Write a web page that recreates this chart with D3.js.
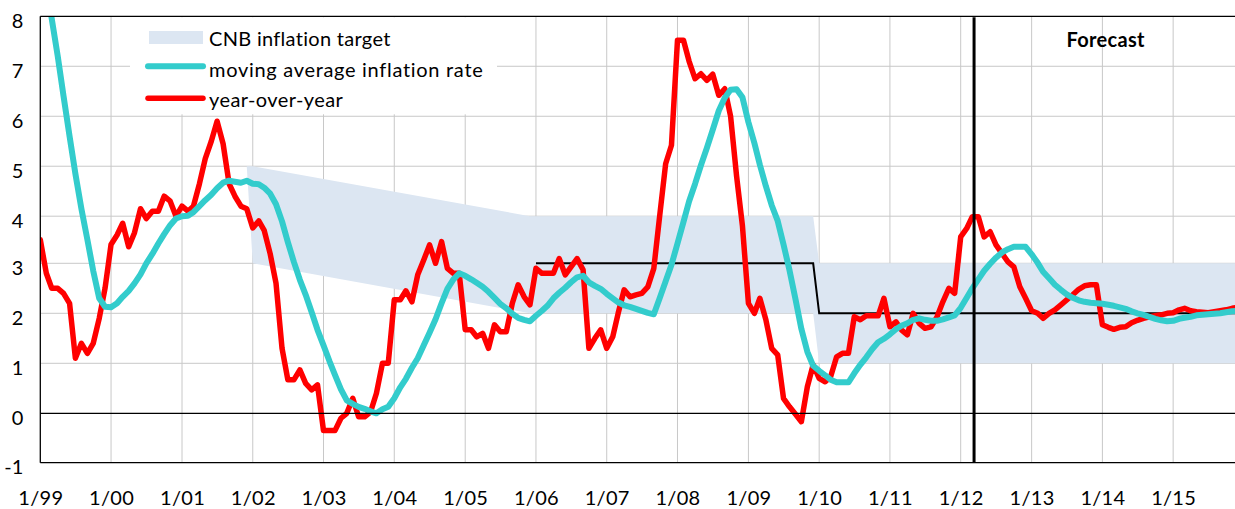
<!DOCTYPE html>
<html>
<head>
<meta charset="utf-8">
<script src="https://cdn.jsdelivr.net/npm/d3@7"></script>
<style>
  body { margin: 0; background: #fff; }
  svg { display: block; }
  text { font-family: Lato, "Open Sans", sans-serif; }
</style>
</head>
<body>
<svg id="chart" width="1235" height="509"></svg>
<script>
// monthly values, Jan 1999 .. Dec 2015
const yoy = [
  3.5, 2.8, 2.5, 2.5, 2.4, 2.2, 1.1, 1.4, 1.2, 1.4, 1.9, 2.5,
  3.4, 3.6, 3.85, 3.35, 3.65, 4.15, 3.95, 4.1, 4.1, 4.4, 4.3, 4.0,
  4.2, 4.1, 4.2, 4.65, 5.15, 5.5, 5.9, 5.45, 4.65, 4.4, 4.2, 4.15,
  3.75, 3.9, 3.7, 3.2, 2.6, 1.3, 0.67, 0.67, 0.87, 0.6, 0.47, 0.57,
  -0.35, -0.35, -0.35, -0.1, 0.0, 0.3, -0.07, -0.07, 0.03, 0.4, 1.0, 1.0,
  2.27, 2.27, 2.45, 2.23, 2.77, 3.07, 3.39, 3.0, 3.46, 2.9, 2.8, 2.8,
  1.67, 1.67, 1.53, 1.6, 1.3, 1.77, 1.63, 1.63, 2.2, 2.57, 2.33, 2.17,
  2.9, 2.8, 2.8, 2.8, 3.1, 2.77, 2.93, 3.1, 2.87, 1.3, 1.5, 1.67,
  1.3, 1.53, 2.0, 2.47, 2.33, 2.37, 2.4, 2.53, 2.9, 4.0, 5.05, 5.42,
  7.52, 7.52, 7.1, 6.75, 6.85, 6.72, 6.84, 6.42, 6.55, 6.0, 4.8, 3.8,
  2.2, 2.0, 2.3, 1.87, 1.3, 1.17, 0.3, 0.13, -0.02, -0.17, 0.53, 0.97,
  0.7, 0.63, 0.73, 1.13, 1.2, 1.2, 1.93, 1.87, 1.95, 1.95, 1.95, 2.3,
  1.73, 1.83, 1.67, 1.57, 2.0, 1.8, 1.7, 1.73, 1.93, 2.23, 2.5, 2.4,
  3.56, 3.74, 3.99, 3.99, 3.56, 3.67, 3.39, 3.21, 3.03, 2.93, 2.53, 2.3,
  2.05, 2.0, 1.9, 2.0, 2.07, 2.17, 2.27, 2.37, 2.48, 2.55, 2.57, 2.57,
  1.77, 1.72, 1.68, 1.72, 1.73, 1.81, 1.86, 1.9, 1.93, 1.95, 1.97, 2.0,
  2.01, 2.07, 2.1, 2.05, 2.03, 2.02, 2.01, 2.03, 2.05, 2.07, 2.1, 2.12
];

const movingAvg = [
  9.4, 8.7, 7.95, 7.2, 6.4, 5.6, 4.85, 4.15, 3.5, 2.85, 2.3, 2.13,
  2.12, 2.2, 2.33, 2.45, 2.6, 2.78, 3.0, 3.2, 3.42, 3.62, 3.81, 3.95,
  4.0, 4.01, 4.08, 4.2, 4.32, 4.43, 4.56, 4.67, 4.71, 4.69, 4.67, 4.71,
  4.65, 4.64, 4.57, 4.45, 4.24, 3.89, 3.45, 3.03, 2.67, 2.37, 2.02, 1.67,
  1.36, 1.04, 0.77, 0.48, 0.26, 0.19, 0.13, 0.09, 0.04, 0.0, 0.08, 0.13,
  0.3, 0.52, 0.69, 0.91, 1.1, 1.36, 1.61, 1.88, 2.2, 2.49, 2.68, 2.8,
  2.75, 2.68, 2.61, 2.53, 2.43, 2.31, 2.19, 2.1, 1.99, 1.91, 1.87, 1.84,
  1.95, 2.05, 2.15, 2.3, 2.41, 2.51, 2.62, 2.72, 2.75, 2.62, 2.55, 2.49,
  2.39, 2.3, 2.22, 2.16, 2.13, 2.09, 2.05, 2.01, 1.98, 2.3, 2.64, 2.97,
  3.42, 3.88, 4.3, 4.65, 5.02, 5.37, 5.73, 6.11, 6.37, 6.53, 6.54, 6.38,
  5.88, 5.46, 5.03, 4.6, 4.22, 3.9, 3.4, 2.86, 2.28, 1.69, 1.23, 0.95,
  0.85, 0.76, 0.67, 0.62, 0.62, 0.62, 0.8, 0.97, 1.12, 1.28, 1.42, 1.49,
  1.58, 1.68, 1.75, 1.8, 1.87, 1.9, 1.87, 1.85, 1.85, 1.88, 1.92, 1.96,
  2.11, 2.31, 2.5, 2.68, 2.85, 2.99, 3.12, 3.23, 3.3, 3.35, 3.35, 3.35,
  3.19, 3.01, 2.83, 2.7, 2.57, 2.47, 2.38, 2.31, 2.26, 2.23, 2.21, 2.2,
  2.19, 2.17, 2.15, 2.12, 2.09, 2.04, 2.0, 1.97, 1.93, 1.89, 1.86, 1.84,
  1.85, 1.89, 1.91, 1.93, 1.96, 1.97, 1.98, 1.99, 2.0, 2.02, 2.04, 2.05
];

// CNB inflation target band (corner points)
const targetDates = ["2001-12", "2002-01", "2005-12", "2009-12", "2010-01", "2015-12"];
const targetLow = [5, 3, 2, 2, 1, 1];
const targetHigh = [5, 5, 4, 4, 3, 3];

// point target
const pointTargetDates = ["2006-01", "2009-12", "2010-01", "2015-12"];
const pointTarget = [3, 3, 2, 2];

const yTicks = [-1, 0, 1, 2, 3, 4, 5, 6, 7, 8];
const xTickLabels = ["1/99", "1/00", "1/01", "1/02", "1/03", "1/04", "1/05", "1/06",
  "1/07", "1/08", "1/09", "1/10", "1/11", "1/12", "1/13", "1/14", "1/15"];
const forecastStart = "2012-03-10";

var svg = d3.select("svg#chart"),
  plotLeft = 40.3, plotRight = 1235, plotTop = 16.3, plotBottom = 462.7;

var parseMonth = d3.timeParse("%Y-%m"),
  parseTick = d3.timeParse("%m/%y"),
  parseDay = d3.timeParse("%Y-%m-%d");

var start = new Date(1999, 0, 1);
var months = d3.range(yoy.length).map(function(i) { return d3.timeMonth.offset(start, i); });

var x = d3.scaleTime()
  .domain([new Date(1999, 0, 1), new Date(2016, 0, 1)])
  .range([plotLeft, plotLeft + 17 * 70.8]);
var y = d3.scaleLinear()
  .domain([-1, 0, 3, 4, 8])
  .range([plotBottom, 413.3, 263.3, 216.2, plotTop]);

svg.append("defs").append("clipPath").attr("id", "plot")
  .append("rect").attr("x", plotLeft).attr("y", plotTop)
  .attr("width", plotRight - plotLeft).attr("height", plotBottom - plotTop);

// grid
var tickDates = xTickLabels.map(function(l) { return parseTick(l); });

svg.append("g").selectAll("line")
  .data(tickDates.slice(1))
  .join("line")
  .attr("x1", function(d) { return x(d); })
  .attr("x2", function(d) { return x(d); })
  .attr("y1", plotTop).attr("y2", plotBottom)
  .attr("stroke", "#c8c8c8").attr("stroke-width", 1);

svg.append("g").selectAll("line")
  .data(yTicks.filter(function(d) { return d > 0 && d < 8; }))
  .join("line")
  .attr("x1", plotLeft).attr("x2", plotRight)
  .attr("y1", function(d) { return y(d); })
  .attr("y2", function(d) { return y(d); })
  .attr("stroke", "#c8c8c8").attr("stroke-width", 1);

var plot = svg.append("g").attr("clip-path", "url(#plot)");

// target band
var band = targetDates.map(function(d, i) {
  return {date: parseMonth(d), lo: targetLow[i], hi: targetHigh[i]};
});
plot.append("path")
  .datum(band)
  .attr("fill", "#dce6f2")
  .attr("d", d3.area()
    .x(function(d) { return x(d.date); })
    .y0(function(d) { return y(d.lo); })
    .y1(function(d) { return y(d.hi); }));

// frame and zero line
svg.append("g").selectAll("line")
  .data([0, -1, 8])
  .join("line")
  .attr("x1", plotLeft).attr("x2", plotRight)
  .attr("y1", function(d) { return y(d); })
  .attr("y2", function(d) { return y(d); })
  .attr("stroke", "#000").attr("stroke-width", 1.3);
svg.append("line")
  .attr("x1", plotLeft).attr("x2", plotLeft).attr("y1", plotTop).attr("y2", plotBottom)
  .attr("stroke", "#000").attr("stroke-width", 1.3);

// point target
var pt = pointTargetDates.map(function(d, i) { return {date: parseMonth(d), v: pointTarget[i]}; });
plot.append("path")
  .datum(pt)
  .attr("fill", "none").attr("stroke", "#000").attr("stroke-width", 2)
  .attr("d", d3.line()
    .x(function(d) { return x(d.date); })
    .y(function(d) { return y(d.v); }));

var line = d3.line()
  .x(function(d, i) { return x(months[i]); })
  .y(function(d) { return y(d); });

plot.append("path")
  .datum(yoy)
  .attr("fill", "none").attr("stroke", "#ff0000").attr("stroke-width", 5.5)
  .attr("stroke-linejoin", "round").attr("stroke-linecap", "round")
  .attr("d", line);

plot.append("path")
  .datum(movingAvg)
  .attr("fill", "none").attr("stroke", "#33cccc").attr("stroke-width", 6)
  .attr("stroke-linejoin", "round").attr("stroke-linecap", "round")
  .attr("d", line);

// forecast marker
var fx = x(parseDay(forecastStart));
svg.append("line")
  .attr("x1", fx).attr("x2", fx).attr("y1", plotTop + 1).attr("y2", plotBottom)
  .attr("stroke", "#000").attr("stroke-width", 3);
svg.append("text")
  .attr("x", 1105.7).attr("y", 47.3)
  .attr("text-anchor", "middle")
  .style("font-size", "20px").style("font-weight", "bold").style("letter-spacing", "0.3px")
  .text("Forecast");

// axes labels
var yAxis = svg.append("g")
  .attr("transform", "translate(" + plotLeft + ",0)")
  .call(d3.axisLeft(y).tickValues(yTicks).tickSize(0).tickPadding(17)
    .tickFormat(function(d) { return String(d); }));
yAxis.select(".domain").remove();
yAxis.selectAll("text")
  .attr("dy", "0.55em")
  .style("font-size", "20px").style("font-family", "Lato, sans-serif").attr("fill", "#000");

var xAxis = svg.append("g")
  .attr("transform", "translate(0," + plotBottom + ")")
  .call(d3.axisBottom(x).tickValues(tickDates).tickSize(0).tickPadding(28)
    .tickFormat(function(d, i) { return xTickLabels[i]; }));
xAxis.select(".domain").remove();
xAxis.selectAll("text")
  .style("font-size", "20px").style("font-family", "Lato, sans-serif")
  .style("letter-spacing", "0.3px").attr("fill", "#000");

// legend
var legend = svg.append("g");
legend.append("rect")
  .attr("x", 130).attr("y", plotTop + 1).attr("width", 367).attr("height", 97)
  .attr("fill", "#fff");
legend.append("rect")
  .attr("x", 149).attr("y", 31).attr("width", 54).attr("height", 13)
  .attr("fill", "#dce6f2");
legend.append("line")
  .attr("x1", 148).attr("x2", 203).attr("y1", 66.3).attr("y2", 66.3)
  .attr("stroke", "#33cccc").attr("stroke-width", 6).attr("stroke-linecap", "round");
legend.append("line")
  .attr("x1", 148).attr("x2", 203).attr("y1", 98.3).attr("y2", 98.3)
  .attr("stroke", "#ff0000").attr("stroke-width", 5.5).attr("stroke-linecap", "round");
var legendText = ["CNB inflation target", "moving average inflation rate", "year-over-year"];
var legendBase = [45.7, 77.3, 107.3];
var legendSpacing = [0.3, 0.7, 0.4];
legend.selectAll("text.item")
  .data(legendText)
  .join("text")
  .attr("class", "item")
  .attr("x", 209)
  .attr("y", function(d, i) { return legendBase[i]; })
  .style("font-size", "20px")
  .style("letter-spacing", function(d, i) { return legendSpacing[i] + "px"; })
  .text(function(d) { return d; });
</script>
</body>
</html>
